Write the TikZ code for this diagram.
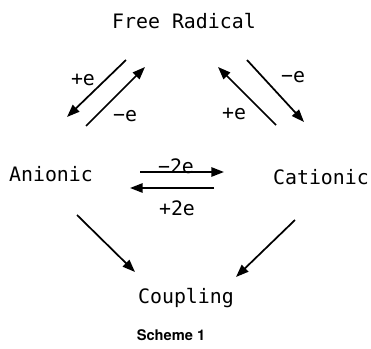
\documentclass[tikz,border=0pt]{standalone}
\usepackage{fontspec}
\newfontfamily\ttyfont{DejaVu Sans Mono}
\setsansfont{TeX Gyre Heros}
\usetikzlibrary{arrows.meta}
\tikzset{
  >={Triangle[length=9.5pt,width=7pt]},
  species/.style={font=\ttyfont\fontsize{14.9}{16}\selectfont,inner sep=0pt},
  elbl/.style={font=\ttyfont\fontsize{14.9}{16}\selectfont,inner sep=0pt},
  flow/.style={->,line width=1.3pt},
}
\begin{document}
\begin{tikzpicture}[x=0.75pt,y=-0.75pt]
\useasboundingbox (0,0) rectangle (371,349);

% ================= species =================
\node[species] (rad) at (184,21) {Free Radical};
\node[species] (an) at (51,174) {Anionic};
\node[species] (cat) at (321,177) {Cationic};
\node[species] (cpl) at (186,298) {Coupling};
\node[font=\sffamily\bfseries\fontsize{11}{12}\selectfont] (sch) at (171,335) {Scheme 1};

% ================= arrow ends =================
\coordinate (radL1) at (126,60);  \coordinate (anU1) at (67,117);
\coordinate (anU2) at (86,126);   \coordinate (radL2) at (145,67);
\coordinate (catU1) at (276,125); \coordinate (radR1) at (218,67);
\coordinate (radR2) at (247,60);  \coordinate (catU2) at (304,122);
\coordinate (anR) at (140,172);   \coordinate (catL) at (224,172);
\coordinate (catL2) at (214,188); \coordinate (anR2) at (130,188);
\coordinate (anD) at (77,215);    \coordinate (cplL) at (135,272);
\coordinate (catD) at (295,220);  \coordinate (cplR) at (236,277);

% ================= radical <-> ions =================
\draw[flow] (radL1) -- (anU1);
\draw[flow] (anU2) -- (radL2);
\node[elbl] (pe1) at (83,80) {+e};
\node[elbl] (me1) at (125,116) {−e};

\draw[flow] (catU1) -- (radR1);
\draw[flow] (radR2) -- (catU2);
\node[elbl] (pe2) at (234,114) {+e};
\node[elbl] (me2) at (293,77) {−e};

% ================= anion <-> cation =================
\draw[flow] (anR) -- (catL);
\draw[flow] (catL2) -- (anR2);
\node[elbl,anchor=base] (me3) at (176,174) {−2e};
\node[elbl] (pe3) at (177,208) {+2e};

% ================= coupling =================
\draw[flow] (anD) -- (cplL);
\draw[flow] (catD) -- (cplR);

\end{tikzpicture}
\end{document}
